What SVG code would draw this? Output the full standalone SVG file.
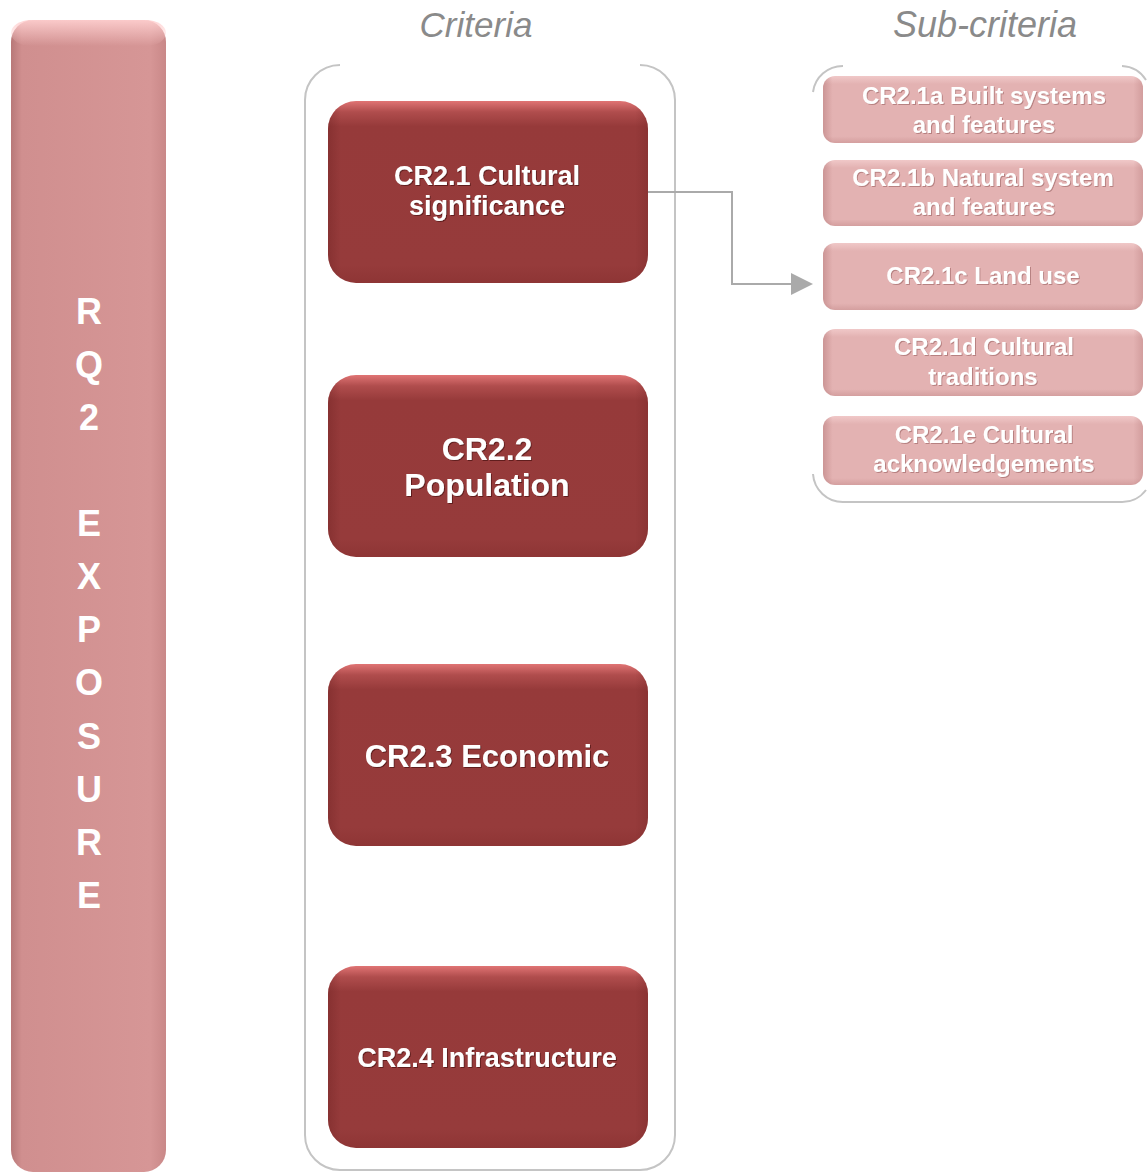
<svg xmlns="http://www.w3.org/2000/svg" width="1147" height="1172" viewBox="0 0 1147 1172">
<style>
.crit-t{font-family:"Liberation Sans",Arial,sans-serif;font-weight:bold;fill:#ffffff;text-anchor:middle;filter:url(#tshadow)}
.sub-t{font-family:"Liberation Sans",Arial,sans-serif;font-weight:bold;font-size:24px;fill:#ffffff;text-anchor:middle;filter:url(#tshadow2)}
.bar-t{font-family:"Liberation Sans",Arial,sans-serif;font-weight:bold;font-size:36px;fill:#ffffff;text-anchor:middle}
.head{font-family:"Liberation Sans",Arial,sans-serif;font-style:italic;fill:#8a8a8a;text-anchor:middle}
.cont{fill:none;stroke:#c4c4c4;stroke-width:2}
.conn{fill:none;stroke:#aaaaaa;stroke-width:2}
</style>
<defs>
<linearGradient id="critV" x1="0" y1="0" x2="0" y2="1">
<stop offset="0" stop-color="#e07474"/>
<stop offset="0.06" stop-color="#b04d4d"/>
<stop offset="0.14" stop-color="#963a3a"/>
<stop offset="0.9" stop-color="#963b3b"/>
<stop offset="1" stop-color="#8e3535"/>
</linearGradient>
<linearGradient id="critH" x1="0" y1="0" x2="1" y2="0">
<stop offset="0" stop-color="#6a2020" stop-opacity="0.35"/>
<stop offset="0.04" stop-color="#6a2020" stop-opacity="0"/>
<stop offset="0.96" stop-color="#6a2020" stop-opacity="0"/>
<stop offset="1" stop-color="#6a2020" stop-opacity="0.25"/>
</linearGradient>
<linearGradient id="barH" x1="0" y1="0" x2="1" y2="0">
<stop offset="0" stop-color="#b87878"/>
<stop offset="0.07" stop-color="#d08f8f"/>
<stop offset="0.9" stop-color="#d69696"/>
<stop offset="1" stop-color="#c98888"/>
</linearGradient>
<linearGradient id="barTop" x1="0" y1="0" x2="0" y2="1">
<stop offset="0" stop-color="#ffd0d0" stop-opacity="0.9"/>
<stop offset="1" stop-color="#ffd0d0" stop-opacity="0"/>
</linearGradient>
<linearGradient id="subV" x1="0" y1="0" x2="0" y2="1">
<stop offset="0" stop-color="#f0c8c8"/>
<stop offset="0.12" stop-color="#e3b2b2"/>
<stop offset="0.9" stop-color="#e3b2b2"/>
<stop offset="1" stop-color="#d49f9f"/>
</linearGradient>
<linearGradient id="subH" x1="0" y1="0" x2="1" y2="0">
<stop offset="0" stop-color="#a06060" stop-opacity="0.35"/>
<stop offset="0.03" stop-color="#a06060" stop-opacity="0"/>
<stop offset="0.97" stop-color="#a06060" stop-opacity="0"/>
<stop offset="1" stop-color="#a06060" stop-opacity="0.25"/>
</linearGradient>
<filter id="tshadow" x="-10%" y="-20%" width="120%" height="140%">
<feDropShadow dx="1" dy="1" stdDeviation="0.6" flood-color="#4a1010" flood-opacity="0.7"/>
</filter>
<filter id="tshadow2" x="-10%" y="-20%" width="120%" height="140%">
<feDropShadow dx="1" dy="1" stdDeviation="0.6" flood-color="#9a6060" flood-opacity="0.6"/>
</filter>
<marker id="arrow" markerWidth="22" markerHeight="22" refX="0" refY="11" orient="auto" markerUnits="userSpaceOnUse" viewBox="0 0 22 22">
<path d="M0,0 L22,11 L0,22 Z" fill="#aaaaaa"/>
</marker>
</defs>

<rect width="1147" height="1172" fill="#ffffff"/>

<g id="rq2-bar">
<rect x="11" y="20" width="155" height="1152" rx="22" fill="url(#barH)"/>
<rect x="11" y="20" width="155" height="26" rx="20" fill="url(#barTop)"/>
<text class="bar-t" x="89" y="324">R</text>
<text class="bar-t" x="89" y="377">Q</text>
<text class="bar-t" x="89" y="430">2</text>
<text class="bar-t" x="89" y="536">E</text>
<text class="bar-t" x="89" y="589">X</text>
<text class="bar-t" x="89" y="642">P</text>
<text class="bar-t" x="89" y="695">O</text>
<text class="bar-t" x="89" y="749">S</text>
<text class="bar-t" x="89" y="802">U</text>
<text class="bar-t" x="89" y="855">R</text>
<text class="bar-t" x="89" y="908">E</text>
</g>

<g id="headings">
<text class="head" x="476" y="37" font-size="35">Criteria</text>
<text class="head" x="985" y="37" font-size="36">Sub-criteria</text>
</g>

<g id="criteria-container">
<path class="cont" d="M340,65 A35,35 0 0 0 305,100 V1135 A35,35 0 0 0 340,1170 H640 A35,35 0 0 0 675,1135 V100 A35,35 0 0 0 640,65"/>
</g>

<g id="subcriteria-container">
<path class="cont" d="M843,66 A30,30 0 0 0 813,92"/>
<path class="cont" d="M1122,66 A30,30 0 0 1 1146,80"/>
<path class="cont" d="M813,474 A30,30 0 0 0 843,502 H1120 A30,30 0 0 0 1146,490"/>
</g>

<g id="connectors">
<path class="conn" d="M648,192 H732 V284 H791" marker-end="url(#arrow)"/>
</g>

<g id="cr2-1">
<rect x="328" y="101" width="320" height="182" rx="28" fill="url(#critV)"/>
<rect x="328" y="101" width="320" height="182" rx="28" fill="url(#critH)"/>
<text class="crit-t" x="487" y="185" font-size="27">CR2.1 Cultural</text>
<text class="crit-t" x="487" y="215" font-size="27">significance</text>
</g>

<g id="cr2-2">
<rect x="328" y="375" width="320" height="182" rx="28" fill="url(#critV)"/>
<rect x="328" y="375" width="320" height="182" rx="28" fill="url(#critH)"/>
<text class="crit-t" x="487" y="460" font-size="32">CR2.2</text>
<text class="crit-t" x="487" y="496" font-size="32">Population</text>
</g>

<g id="cr2-3">
<rect x="328" y="664" width="320" height="182" rx="28" fill="url(#critV)"/>
<rect x="328" y="664" width="320" height="182" rx="28" fill="url(#critH)"/>
<text class="crit-t" x="487" y="767" font-size="31">CR2.3 Economic</text>
</g>

<g id="cr2-4">
<rect x="328" y="966" width="320" height="182" rx="28" fill="url(#critV)"/>
<rect x="328" y="966" width="320" height="182" rx="28" fill="url(#critH)"/>
<text class="crit-t" x="487" y="1067" font-size="27">CR2.4 Infrastructure</text>
</g>

<g id="cr2-1a">
<rect x="823" y="76" width="320" height="67" rx="12" fill="url(#subV)"/>
<rect x="823" y="76" width="320" height="67" rx="12" fill="url(#subH)"/>
<text class="sub-t" x="984" y="104">CR2.1a Built systems</text>
<text class="sub-t" x="984" y="133">and features</text>
</g>

<g id="cr2-1b">
<rect x="823" y="160" width="320" height="66" rx="12" fill="url(#subV)"/>
<rect x="823" y="160" width="320" height="66" rx="12" fill="url(#subH)"/>
<text class="sub-t" x="983" y="186">CR2.1b Natural system</text>
<text class="sub-t" x="984" y="215">and features</text>
</g>

<g id="cr2-1c">
<rect x="823" y="243" width="320" height="67" rx="12" fill="url(#subV)"/>
<rect x="823" y="243" width="320" height="67" rx="12" fill="url(#subH)"/>
<text class="sub-t" x="983" y="284">CR2.1c Land use</text>
</g>

<g id="cr2-1d">
<rect x="823" y="329" width="320" height="67" rx="12" fill="url(#subV)"/>
<rect x="823" y="329" width="320" height="67" rx="12" fill="url(#subH)"/>
<text class="sub-t" x="984" y="355">CR2.1d Cultural</text>
<text class="sub-t" x="983" y="385">traditions</text>
</g>

<g id="cr2-1e">
<rect x="823" y="416" width="320" height="69" rx="12" fill="url(#subV)"/>
<rect x="823" y="416" width="320" height="69" rx="12" fill="url(#subH)"/>
<text class="sub-t" x="984" y="443">CR2.1e Cultural</text>
<text class="sub-t" x="984" y="472">acknowledgements</text>
</g>
</svg>
